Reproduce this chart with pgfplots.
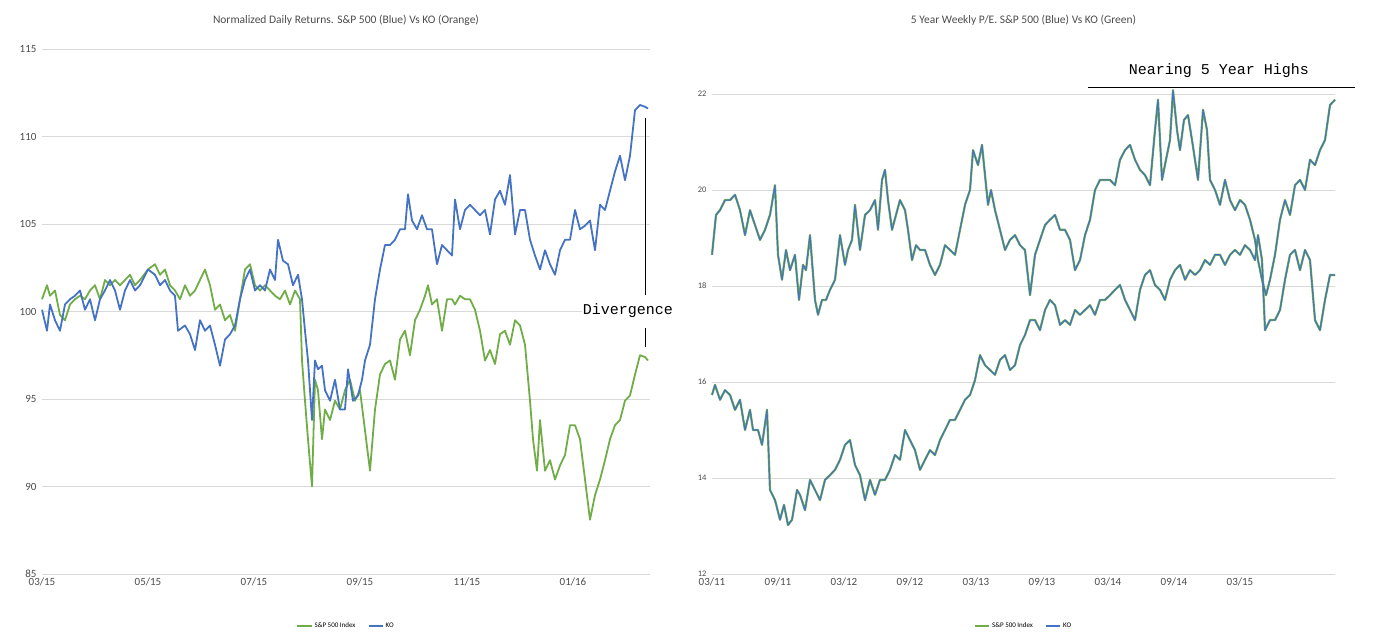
\documentclass[border=0pt]{standalone}
\usepackage{pgfplots}
\pgfplotsset{compat=1.18}
\usepackage{fontspec}
\setmainfont{Carlito}
\newfontfamily\monof{Liberation Mono}
\definecolor{cblue}{HTML}{4472C4}
\definecolor{cgreen}{HTML}{70AD47}
\begin{document}
\begin{tikzpicture}
\path[use as bounding box] (0pt,0pt) rectangle (1377pt,642pt);
\pgfplotsset{every axis/.style={scale only axis, anchor=south west, axis line style={draw=none}, tick style={draw=none},
 ymajorgrids, grid style={color=black!15}, tick label style={color=black!70},
 /pgf/number format/assume math mode=true, clip=false,
 legend columns=2, legend style={draw=none, font=\fontsize{7}{8}\selectfont, at={(0.5,-0.085)}, anchor=north, /tikz/every even column/.append style={column sep=10pt}},
 legend image code/.code={\draw[#1,line width=2pt] (0,0) -- (0.5cm,0);}}}
% LEFT
\begin{scope}[shift={(42pt,68pt)}]
\begin{axis}[at={(0pt,0pt)}, width=608pt, height=525pt, xmin=0, xmax=608, ymin=85, ymax=115,
 ytick={85,90,...,115}, xtick={0,106,212,318,425,531}, xticklabels={03/15,05/15,07/15,09/15,11/15,01/16},
 tick label style={font=\fontsize{11}{12}\selectfont}, yticklabel style={xshift=-2pt},
 title={Normalized Daily Returns. S\&P 500 (Blue) Vs KO (Orange)}, title style={font=\fontsize{11.5}{13}\selectfont, color=black!70, yshift=14pt}]
\addplot[cgreen, line width=1.8pt, line join=round] coordinates {
(0,100.7)(5,101.5)(8,100.9)(13,101.2)(18,99.8)(23,99.5)(28,100.4)(33,100.7)(38,100.9)(43,100.7)(48,101.2)(53,101.5)(58,100.7)(63,101.8)(68,101.5)(73,101.8)(78,101.5)(83,101.8)(88,102.1)(93,101.5)(98,101.8)(106,102.4)(113,102.7)(118,102.1)(123,102.4)(128,101.5)(133,101.2)(138,100.7)(143,101.5)(148,100.9)(153,101.2)(158,101.8)(163,102.4)(168,101.5)(173,100.1)(178,100.4)(183,99.5)(188,99.8)(193,98.9)(198,100.7)(203,102.4)(208,102.7)(213,101.5)(218,101.2)(223,101.5)(228,101.2)(233,100.9)(238,100.7)(243,101.2)(248,100.4)(253,101.2)(258,100.7)(260,97.2)(263,94.9)(266,92.7)(270,90.0)(273,96.1)(276,95.5)(280,92.7)(283,94.4)(288,93.8)(293,94.9)(298,94.4)(303,95.5)(308,96.1)(313,94.9)(318,95.5)(323,93.2)(328,90.9)(333,94.4)(338,96.4)(343,97.0)(348,97.2)(353,96.1)(358,98.4)(363,98.9)(368,97.5)(373,99.5)(378,100.1)(383,100.9)(386,101.5)(390,100.4)(395,100.7)(400,98.9)(405,100.7)(410,100.7)(413,100.4)(418,100.9)(423,100.7)(428,100.7)(433,100.1)(438,98.9)(443,97.2)(448,97.8)(453,97.0)(458,98.7)(463,98.9)(468,98.1)(473,99.5)(478,99.2)(483,98.1)(488,94.9)(491,92.7)(495,90.9)(498,93.8)(503,90.9)(508,91.5)(513,90.4)(518,91.2)(523,91.8)(528,93.5)(533,93.5)(538,92.7)(543,90.4)(548,88.1)(553,89.5)(558,90.4)(563,91.5)(568,92.7)(573,93.5)(578,93.8)(583,94.9)(588,95.2)(593,96.4)(598,97.5)(603,97.4)(606,97.2)};
\addplot[cblue, line width=1.8pt, line join=round] coordinates {
(0,100.1)(5,98.9)(8,100.4)(13,99.5)(18,98.9)(23,100.4)(28,100.7)(33,100.9)(38,101.2)(43,100.1)(48,100.7)(53,99.5)(58,100.7)(63,101.2)(68,101.8)(73,101.2)(78,100.1)(83,101.2)(88,101.8)(93,101.2)(98,101.5)(106,102.4)(113,102.1)(118,101.5)(123,101.8)(128,101.2)(133,100.9)(136,98.9)(143,99.2)(148,98.7)(153,97.8)(158,99.5)(163,98.9)(168,99.2)(173,98.1)(178,96.9)(183,98.4)(188,98.7)(193,99.2)(198,100.7)(203,101.8)(208,102.4)(213,101.2)(218,101.5)(223,101.2)(228,102.4)(233,101.8)(236,104.1)(241,102.9)(246,102.7)(251,101.5)(256,102.1)(260,100.7)(263,98.9)(266,97.2)(270,93.8)(273,97.2)(276,96.7)(280,96.9)(283,95.5)(288,94.9)(293,96.1)(298,94.4)(303,94.4)(306,96.7)(311,94.9)(316,95.2)(320,96.1)(323,97.2)(328,98.1)(333,100.7)(338,102.4)(343,103.8)(348,103.8)(353,104.1)(358,104.7)(363,104.7)(366,106.7)(370,105.2)(375,104.7)(380,105.5)(385,104.7)(390,104.7)(395,102.7)(400,103.8)(405,103.5)(410,103.2)(413,106.4)(418,104.7)(423,105.8)(428,106.1)(433,105.8)(438,105.5)(443,105.8)(448,104.4)(453,106.4)(458,106.9)(463,106.1)(468,107.8)(473,104.4)(478,105.8)(483,105.8)(488,104.1)(493,103.2)(498,102.4)(503,103.5)(508,102.7)(513,102.1)(518,103.5)(523,104.1)(528,104.1)(533,105.8)(538,104.7)(543,104.9)(548,105.2)(553,103.5)(558,106.1)(563,105.8)(568,106.9)(573,108.0)(578,108.9)(583,107.5)(588,108.9)(593,111.5)(598,111.8)(603,111.7)(606,111.6)};
\legend{S\&P 500 Index,KO}
\end{axis}
\end{scope}
% RIGHT
\begin{scope}[shift={(712pt,68pt)}]
\begin{axis}[at={(0pt,0pt)}, width=623pt, height=528pt, xmin=0, xmax=623, ymin=12, ymax=23,
 ytick={12,14,...,22}, xtick={0,66,132,198,264,330,396,462,528}, xticklabels={03/11,09/11,03/12,09/12,03/13,09/13,03/14,09/14,03/15,09/15},
 xticklabel style={font=\fontsize{11}{12}\selectfont}, yticklabel style={font=\fontsize{8.5}{10}\selectfont, xshift=-2pt},
 title={5 Year Weekly P/E. S\&P 500 (Blue) Vs KO (Green)}, title style={font=\fontsize{11.5}{13}\selectfont, color=black!70, yshift=11pt}]
\pgfplotsset{cycle list={}}
\addplot[cgreen, line width=2.2pt, line join=round, forget plot] coordinates {
(0,15.73)(3,15.94)(8,15.63)(13,15.83)(18,15.73)(23,15.42)(28,15.63)(33,15.0)(38,15.42)(41,15.0)(46,15.0)(50,14.69)(55,15.42)(58,13.75)(63,13.54)(68,13.13)(72,13.44)(76,13.02)(80,13.13)(85,13.75)(88,13.65)(93,13.33)(98,13.96)(103,13.75)(108,13.54)(113,13.96)(118,14.06)(123,14.17)(128,14.38)(133,14.69)(138,14.79)(143,14.27)(148,14.06)(153,13.54)(158,13.96)(163,13.65)(168,13.96)(173,13.96)(178,14.17)(183,14.48)(188,14.38)(193,15.0)(198,14.79)(203,14.58)(208,14.17)(213,14.38)(218,14.58)(223,14.48)(228,14.79)(233,15.0)(238,15.21)(243,15.21)(248,15.42)(253,15.63)(258,15.73)(263,16.04)(268,16.56)(273,16.35)(278,16.25)(283,16.15)(288,16.46)(293,16.56)(298,16.25)(303,16.35)(308,16.77)(313,16.98)(318,17.29)(323,17.29)(328,17.08)(333,17.50)(338,17.71)(343,17.60)(348,17.19)(353,17.29)(358,17.19)(363,17.50)(368,17.40)(373,17.50)(378,17.60)(383,17.40)(388,17.71)(393,17.71)(398,17.81)(403,17.92)(408,18.02)(413,17.71)(418,17.50)(423,17.29)(428,17.92)(433,18.23)(438,18.33)(443,18.02)(448,17.92)(453,17.71)(458,18.13)(463,18.33)(468,18.44)(473,18.13)(478,18.33)(483,18.23)(488,18.33)(493,18.54)(498,18.44)(503,18.65)(508,18.65)(513,18.44)(518,18.65)(523,18.75)(528,18.65)(533,18.85)(538,18.75)(543,18.54)(546,19.06)(550,18.54)(553,17.08)(558,17.29)(563,17.29)(568,17.50)(573,18.13)(578,18.65)(583,18.75)(588,18.33)(593,18.75)(598,18.54)(603,17.29)(608,17.08)(613,17.71)(618,18.23)(623,18.23)};
\addplot[cgreen, line width=2.2pt, line join=round, forget plot] coordinates {
(0,18.65)(4,19.48)(8,19.58)(13,19.79)(18,19.79)(23,19.90)(28,19.58)(33,19.06)(38,19.58)(43,19.27)(48,18.96)(53,19.17)(58,19.48)(63,20.10)(66,18.65)(70,18.13)(74,18.75)(78,18.33)(83,18.65)(87,17.71)(91,18.44)(94,18.33)(98,19.06)(103,17.71)(106,17.40)(110,17.71)(114,17.71)(118,17.92)(123,18.13)(128,19.06)(133,18.44)(136,18.75)(140,18.96)(143,19.69)(148,18.75)(153,19.48)(158,19.58)(163,19.79)(166,19.17)(170,20.21)(173,20.42)(176,19.79)(180,19.17)(184,19.48)(188,19.79)(193,19.58)(196,19.17)(200,18.54)(204,18.85)(208,18.75)(213,18.75)(218,18.44)(223,18.23)(228,18.44)(233,18.85)(238,18.75)(243,18.65)(248,19.17)(253,19.69)(258,20.0)(261,20.83)(266,20.52)(270,20.94)(273,20.31)(276,19.69)(279,20.0)(283,19.58)(288,19.17)(293,18.75)(298,18.96)(303,19.06)(308,18.85)(313,18.75)(318,17.81)(323,18.65)(328,18.96)(333,19.27)(338,19.38)(343,19.48)(348,19.17)(353,19.17)(358,18.96)(363,18.33)(368,18.54)(373,19.06)(378,19.38)(383,20.0)(388,20.21)(393,20.21)(398,20.21)(403,20.10)(408,20.63)(413,20.83)(418,20.94)(423,20.63)(428,20.42)(433,20.31)(438,20.10)(443,21.25)(446,21.88)(450,20.21)(454,20.63)(458,21.04)(461,22.08)(465,21.25)(468,20.83)(472,21.46)(476,21.56)(480,21.04)(486,20.21)(491,21.67)(495,21.25)(498,20.21)(503,20.0)(508,19.69)(513,20.21)(518,19.79)(523,19.58)(528,19.79)(533,19.69)(538,19.38)(543,18.96)(546,18.54)(550,18.13)(554,17.81)(558,18.13)(563,18.65)(568,19.38)(573,19.79)(578,19.48)(583,20.10)(588,20.21)(593,20.0)(598,20.63)(603,20.52)(608,20.83)(613,21.04)(618,21.77)(623,21.88)};
\addplot[cblue, line width=1.1pt, line join=round, forget plot] coordinates {
(0,15.73)(3,15.94)(8,15.63)(13,15.83)(18,15.73)(23,15.42)(28,15.63)(33,15.0)(38,15.42)(41,15.0)(46,15.0)(50,14.69)(55,15.42)(58,13.75)(63,13.54)(68,13.13)(72,13.44)(76,13.02)(80,13.13)(85,13.75)(88,13.65)(93,13.33)(98,13.96)(103,13.75)(108,13.54)(113,13.96)(118,14.06)(123,14.17)(128,14.38)(133,14.69)(138,14.79)(143,14.27)(148,14.06)(153,13.54)(158,13.96)(163,13.65)(168,13.96)(173,13.96)(178,14.17)(183,14.48)(188,14.38)(193,15.0)(198,14.79)(203,14.58)(208,14.17)(213,14.38)(218,14.58)(223,14.48)(228,14.79)(233,15.0)(238,15.21)(243,15.21)(248,15.42)(253,15.63)(258,15.73)(263,16.04)(268,16.56)(273,16.35)(278,16.25)(283,16.15)(288,16.46)(293,16.56)(298,16.25)(303,16.35)(308,16.77)(313,16.98)(318,17.29)(323,17.29)(328,17.08)(333,17.50)(338,17.71)(343,17.60)(348,17.19)(353,17.29)(358,17.19)(363,17.50)(368,17.40)(373,17.50)(378,17.60)(383,17.40)(388,17.71)(393,17.71)(398,17.81)(403,17.92)(408,18.02)(413,17.71)(418,17.50)(423,17.29)(428,17.92)(433,18.23)(438,18.33)(443,18.02)(448,17.92)(453,17.71)(458,18.13)(463,18.33)(468,18.44)(473,18.13)(478,18.33)(483,18.23)(488,18.33)(493,18.54)(498,18.44)(503,18.65)(508,18.65)(513,18.44)(518,18.65)(523,18.75)(528,18.65)(533,18.85)(538,18.75)(543,18.54)(546,19.06)(550,18.54)(553,17.08)(558,17.29)(563,17.29)(568,17.50)(573,18.13)(578,18.65)(583,18.75)(588,18.33)(593,18.75)(598,18.54)(603,17.29)(608,17.08)(613,17.71)(618,18.23)(623,18.23)};
\addplot[cblue, line width=1.1pt, line join=round, forget plot] coordinates {
(0,18.65)(4,19.48)(8,19.58)(13,19.79)(18,19.79)(23,19.90)(28,19.58)(33,19.06)(38,19.58)(43,19.27)(48,18.96)(53,19.17)(58,19.48)(63,20.10)(66,18.65)(70,18.13)(74,18.75)(78,18.33)(83,18.65)(87,17.71)(91,18.44)(94,18.33)(98,19.06)(103,17.71)(106,17.40)(110,17.71)(114,17.71)(118,17.92)(123,18.13)(128,19.06)(133,18.44)(136,18.75)(140,18.96)(143,19.69)(148,18.75)(153,19.48)(158,19.58)(163,19.79)(166,19.17)(170,20.21)(173,20.42)(176,19.79)(180,19.17)(184,19.48)(188,19.79)(193,19.58)(196,19.17)(200,18.54)(204,18.85)(208,18.75)(213,18.75)(218,18.44)(223,18.23)(228,18.44)(233,18.85)(238,18.75)(243,18.65)(248,19.17)(253,19.69)(258,20.0)(261,20.83)(266,20.52)(270,20.94)(273,20.31)(276,19.69)(279,20.0)(283,19.58)(288,19.17)(293,18.75)(298,18.96)(303,19.06)(308,18.85)(313,18.75)(318,17.81)(323,18.65)(328,18.96)(333,19.27)(338,19.38)(343,19.48)(348,19.17)(353,19.17)(358,18.96)(363,18.33)(368,18.54)(373,19.06)(378,19.38)(383,20.0)(388,20.21)(393,20.21)(398,20.21)(403,20.10)(408,20.63)(413,20.83)(418,20.94)(423,20.63)(428,20.42)(433,20.31)(438,20.10)(443,21.25)(446,21.88)(450,20.21)(454,20.63)(458,21.04)(461,22.08)(465,21.25)(468,20.83)(472,21.46)(476,21.56)(480,21.04)(486,20.21)(491,21.67)(495,21.25)(498,20.21)(503,20.0)(508,19.69)(513,20.21)(518,19.79)(523,19.58)(528,19.79)(533,19.69)(538,19.38)(543,18.96)(546,18.54)(550,18.13)(554,17.81)(558,18.13)(563,18.65)(568,19.38)(573,19.79)(578,19.48)(583,20.10)(588,20.21)(593,20.0)(598,20.63)(603,20.52)(608,20.83)(613,21.04)(618,21.77)(623,21.88)};
\addlegendimage{cgreen}\addlegendentry{S\&P 500 Index}
\addlegendimage{cblue}\addlegendentry{KO}
\end{axis}
\end{scope}
% annotations
\draw[black, line width=0.8pt] (645pt,524pt) -- (645pt,347pt);
\draw[black, line width=0.8pt] (645pt,314pt) -- (645pt,295pt);
\node[font=\monof\fontsize{15}{16}\selectfont, fill=white, inner sep=1pt] at (628pt,331pt) {Divergence};
\node[font=\monof\fontsize{15}{16}\selectfont] at (1219pt,571pt) {Nearing 5 Year Highs};
\draw[black, line width=0.8pt] (1088pt,555pt) -- (1355pt,555pt);
\end{tikzpicture}
\end{document}
